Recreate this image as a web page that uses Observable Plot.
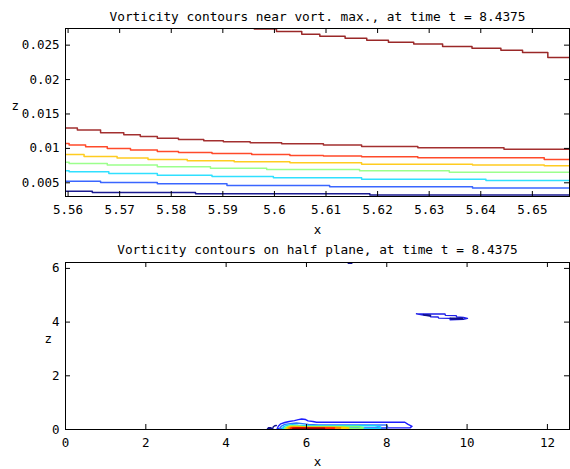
<!DOCTYPE html>
<html><head><meta charset="utf-8">
<script src="https://cdn.jsdelivr.net/npm/d3@7"></script>
<script src="https://cdn.jsdelivr.net/npm/@observablehq/plot@0.6"></script>
<style>
body{margin:0;background:#fff;}
#wrap{position:relative;width:570px;height:469px;overflow:hidden;background:#fff;}
#wrap svg{position:absolute;left:0;overflow:visible;}
</style></head><body><div id="wrap"></div>
<script>
// ---------- texts ----------
const titleTop = "Vorticity contours near vort. max., at time t = 8.4375";
const titleBottom = "Vorticity contours on half plane, at time t = 8.4375";
const xLabel = "x";
const zLabel = "z";

// ---------- tick values ----------
const xTicksTop = [5.56, 5.57, 5.58, 5.59, 5.6, 5.61, 5.62, 5.63, 5.64, 5.65];
const zTicksTop = [0.005, 0.01, 0.015, 0.02, 0.025];
const xTicksBottom = [0, 2, 4, 6, 8, 10, 12];
const zTicksBottom = [0, 2, 4, 6];
const xDomainTop = [5.5595, 5.6572];
const zDomainTop = [0.00301, 0.02742];
const xDomainBottom = [0, 12.55];
const zDomainBottom = [0, 6.22];

// ---------- top panel: contour lines [x, z] ----------
const navyLine = [[5.5595,0.00379],[5.5647,0.0036],[5.5847,0.0034],[5.6185,0.00321],[5.658,0.00321]];
const blueLine = [[5.5595,0.00524],[5.5663,0.00505],[5.5773,0.00485],[5.5908,0.00461],[5.6107,0.00442],[5.6384,0.00423],[5.658,0.00423]];
const cyanLine = [[5.5595,0.00674],[5.5602,0.0066],[5.5679,0.00636],[5.5773,0.00611],[5.5879,0.00592],[5.5998,0.00573],[5.6169,0.00553],[5.6410,0.00534],[5.658,0.00534]];
const greenLine = [[5.5595,0.008],[5.5602,0.00781],[5.5676,0.00757],[5.5773,0.00733],[5.5876,0.00713],[5.5985,0.00694],[5.6165,0.00674],[5.6339,0.00655],[5.658,0.00655]];
const yellowLine = [[5.5595,0.00912],[5.5631,0.00883],[5.5695,0.00859],[5.5755,0.00839],[5.5831,0.0082],[5.5922,0.00805],[5.6030,0.00791],[5.6169,0.00771],[5.6384,0.00757],[5.6523,0.00747],[5.658,0.00747]];
const redLine = [[5.5595,0.01072],[5.5602,0.01048],[5.5634,0.01023],[5.5676,0.00999],[5.5721,0.00975],[5.5773,0.00955],[5.5814,0.00941],[5.5879,0.00926],[5.5956,0.00912],[5.6030,0.00897],[5.6095,0.00888],[5.6169,0.00878],[5.6278,0.00863],[5.6523,0.00839],[5.658,0.00839]];
const darkRedLine = [[5.5595,0.01295],[5.5618,0.01266],[5.5663,0.01227],[5.5708,0.01198],[5.5740,0.01173],[5.5773,0.01149],[5.5814,0.0113],[5.5863,0.0111],[5.5901,0.01096],[5.5953,0.01081],[5.6014,0.01067],[5.6095,0.01048],[5.6169,0.01028],[5.6278,0.01009],[5.6445,0.00989],[5.658,0.00989]];
const topLine = [[5.594,0.0276],[5.5961,0.02733],[5.6004,0.02698],[5.6053,0.0266],[5.6088,0.02631],[5.6137,0.02602],[5.6179,0.02573],[5.6221,0.02544],[5.6270,0.02515],[5.6326,0.0248],[5.6383,0.02456],[5.6439,0.02427],[5.6481,0.02392],[5.6530,0.0232],[5.658,0.0229]];

const topLines = [navyLine, blueLine, cyanLine, greenLine, yellowLine, redLine, darkRedLine, topLine];
const topColors = ["#1a1a90", "#3a66ff", "#30e0ff", "#9cff8c", "#ffcc20", "#ff4a2a", "#a33030", "#9a2828"];

// ---------- bottom panel: contour loops [x, z] ----------
const cBlue1 = [[5.27,0.03],[5.30,0.12],[5.36,0.21],[5.46,0.26],[5.57,0.30],[5.70,0.33],[5.80,0.37],[5.88,0.39],[5.98,0.37],[6.04,0.32],[6.16,0.30],[6.25,0.27],[8.45,0.27],[8.52,0.20],[8.63,0.12],[8.58,0.06],[8.0,0.06],[7.0,0.05],[6.0,0.04],[5.27,0.03]];
const cBlue2 = [[5.33,0.04],[5.38,0.13],[5.46,0.19],[5.60,0.22],[5.75,0.24],[5.90,0.22],[6.05,0.19],[6.3,0.17],[7.98,0.17],[8.02,0.12],[8.0,0.05],[7.0,0.04],[5.33,0.04]];
const cCyan = [[5.40,0.04],[5.44,0.11],[5.52,0.16],[5.65,0.18],[5.80,0.16],[6.1,0.14],[7.7,0.14],[7.85,0.10],[7.83,0.04],[5.40,0.04]];
const cGreen = [[5.45,0.04],[5.49,0.09],[5.57,0.13],[5.7,0.14],[5.9,0.12],[6.4,0.11],[7.3,0.11],[7.42,0.07],[7.4,0.04],[5.45,0.04]];
const cYellow = [[5.50,0.04],[5.53,0.08],[5.6,0.11],[5.75,0.11],[6.0,0.095],[6.9,0.09],[7.06,0.06],[7.05,0.04],[5.5,0.04]];
const cOrange = [[5.55,0.04],[5.58,0.07],[5.66,0.09],[5.85,0.08],[6.5,0.075],[6.85,0.07],[6.84,0.04],[5.55,0.04]];
const cRed = [[5.60,0.04],[5.63,0.065],[5.75,0.07],[6.3,0.06],[6.7,0.06],[6.69,0.04],[5.6,0.04]];
const cDarkRed = [[5.66,0.04],[5.75,0.05],[6.45,0.05],[6.45,0.04],[5.66,0.04]];
const cNavy1 = [[5.03,0.03],[5.06,0.07],[5.12,0.07],[5.13,0.03],[5.03,0.03]];
const cNavy2 = [[5.16,0.03],[5.17,0.09],[5.21,0.14],[5.25,0.15]];
const cNavyTop = [[7.04,6.19],[7.13,6.19]];
const cLoopBlue = [[8.74,4.31],[9.45,4.30],[9.46,4.25],[9.73,4.24],[9.74,4.19],[9.91,4.17],[10.01,4.14],[9.91,4.10],[9.58,4.09],[9.57,4.14],[9.29,4.15],[9.28,4.19],[9.09,4.20],[9.08,4.24],[8.91,4.26],[8.74,4.31]];
const cLoopNavy1 = [[8.91,4.28],[9.09,4.26],[9.09,4.23],[8.95,4.25],[8.91,4.28]];
const cLoopNavy2 = [[9.58,4.15],[9.88,4.15],[9.9,4.11],[9.6,4.11],[9.58,4.15]];

const bottomLoops = [cBlue1, cBlue2, cCyan, cGreen, cYellow, cOrange, cRed, cDarkRed, cNavy1, cNavy2, cNavyTop, cLoopBlue, cLoopNavy1, cLoopNavy2];
const bottomColors = ["#1c1cff", "#2c74ff", "#10d8ff", "#80ff70", "#ffd000", "#ff8a00", "#ff2000", "#a00000", "#10108c", "#10108c", "#10108c", "#2020e8", "#10108c", "#10108c"];

// ---------- drawing ----------
const FONT = "'DejaVu Sans Mono', 'Liberation Mono', monospace";
const W = 570, ML = 65, MR = 1;

function panel({height, mt, mb, xDomain, yDomain, xTicks, yTicks, lines, colors, curve, sw, title, titleDy, xDy, zDx, zDy}) {
  const fh = height - mt - mb, fw = W - ML - MR;
  const marks = [];
  lines.forEach((ln, i) => marks.push(Plot.line(ln, {x: d => d[0], y: d => d[1], stroke: colors[i], strokeWidth: sw, curve, clip: true})));
  marks.push(
    Plot.frame({stroke: "black", strokeWidth: 1}),
    Plot.tickX(xTicks, {x: d => d, insetTop: fh - 5, stroke: "black"}),
    Plot.tickX(xTicks, {x: d => d, insetBottom: fh - 5, stroke: "black"}),
    Plot.tickY(yTicks, {y: d => d, insetLeft: fw - 5, stroke: "black"}),
    Plot.tickY(yTicks, {y: d => d, insetRight: fw - 5, stroke: "black"}),
    Plot.axisX(xTicks, {tickSize: 0, tickPadding: 9, label: null, fontSize: 12.5, tickFormat: d => String(d)}),
    Plot.axisY(yTicks, {tickSize: 0, tickPadding: 6, label: null, fontSize: 12.5, tickFormat: d => String(d)}),
    Plot.text([title], {frameAnchor: "top", dy: titleDy, fontSize: 12.8, fill: "black"}),
    Plot.text([xLabel], {frameAnchor: "bottom", dy: xDy, fontSize: 12.5, fill: "black"}),
    Plot.text([zLabel], {frameAnchor: "left", dx: zDx, dy: zDy, fontSize: 12.5, fill: "black"})
  );
  return Plot.plot({
    width: W, height, marginTop: mt, marginBottom: mb, marginLeft: ML, marginRight: MR,
    x: {domain: xDomain}, y: {domain: yDomain},
    style: {fontFamily: FONT, fontSize: "12.5px", color: "black", background: "transparent"},
    marks
  });
}

const topPanel = panel({height: 235, mt: 28, mb: 39, xDomain: xDomainTop, yDomain: zDomainTop,
  xTicks: xTicksTop, yTicks: zTicksTop, lines: topLines, colors: topColors, curve: "step-after", sw: 1.5,
  title: titleTop, titleDy: -17, xDy: 37, zDx: -54, zDy: -7});
const bottomPanel = panel({height: 234, mt: 27, mb: 40, xDomain: xDomainBottom, yDomain: zDomainBottom,
  xTicks: xTicksBottom, yTicks: zTicksBottom, lines: bottomLoops, colors: bottomColors, curve: "linear", sw: 1.4,
  title: titleBottom, titleDy: -18, xDy: 36, zDx: -21, zDy: -7});
topPanel.style.top = "0px";
bottomPanel.style.top = "235px";
const wrap = document.getElementById("wrap");
wrap.appendChild(topPanel);
wrap.appendChild(bottomPanel);
</script></body></html>
